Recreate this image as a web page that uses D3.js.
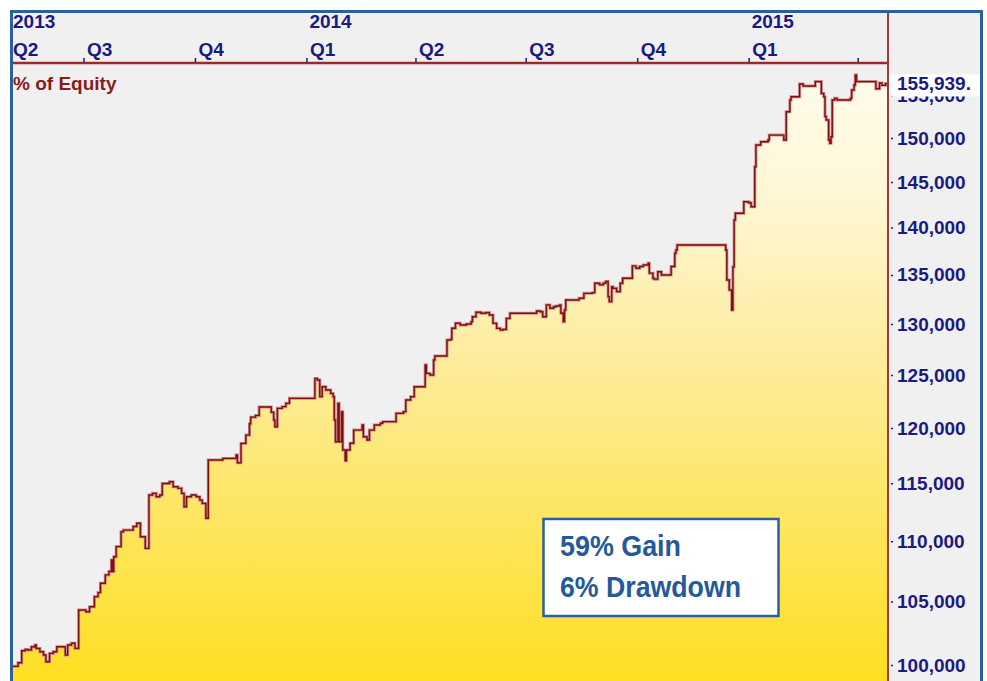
<!DOCTYPE html>
<html>
<head>
<meta charset="utf-8">
<script src="https://cdn.jsdelivr.net/npm/d3@7"></script>
<style>
  body { margin: 0; background: #fff; }
  svg { display: block; font-family: "Liberation Sans", Arial, sans-serif; }
</style>
</head>
<body>
<div id="chart"></div>
<script>
// equity curve
const dates = [
  "2013-05-03","2013-05-08","2013-05-11","2013-05-14","2013-05-16","2013-05-19","2013-05-22","2013-05-23",
  "2013-05-26","2013-05-29","2013-05-31","2013-06-03","2013-06-06","2013-06-09","2013-06-16","2013-06-18",
  "2013-06-21","2013-06-24","2013-06-27","2013-07-03","2013-07-06","2013-07-10","2013-07-13","2013-07-15",
  "2013-07-19","2013-07-22","2013-07-24","2013-07-25","2013-07-26","2013-07-28","2013-08-01","2013-08-03",
  "2013-08-11","2013-08-14","2013-08-17","2013-08-21","2013-08-24","2013-08-27","2013-08-30","2013-09-02",
  "2013-09-04","2013-09-10","2013-09-13","2013-09-17","2013-09-20","2013-09-22","2013-09-24","2013-09-28",
  "2013-10-02","2013-10-05","2013-10-07","2013-10-10","2013-10-12","2013-10-24","2013-11-04","2013-11-05",
  "2013-11-08","2013-11-12","2013-11-15","2013-11-16","2013-11-20","2013-11-23","2013-12-03","2013-12-05",
  "2013-12-06","2013-12-08","2013-12-12","2013-12-15","2013-12-18","2014-01-08","2014-01-10","2014-01-12",
  "2014-01-14","2014-01-17","2014-01-21","2014-01-23","2014-01-24","2014-01-25","2014-01-27","2014-01-28",
  "2014-01-30","2014-01-31","2014-02-02","2014-02-03","2014-02-06","2014-02-09","2014-02-16","2014-02-17",
  "2014-02-20","2014-02-22","2014-02-26","2014-03-03","2014-03-05","2014-03-16","2014-03-22","2014-03-24",
  "2014-03-28","2014-03-31","2014-04-09","2014-04-10","2014-04-13","2014-04-16","2014-04-17","2014-04-27",
  "2014-04-30","2014-05-01","2014-05-04","2014-05-08","2014-05-13","2014-05-17","2014-05-18","2014-05-21",
  "2014-05-25","2014-05-29","2014-06-01","2014-06-04","2014-06-07","2014-06-10","2014-06-12","2014-06-15",
  "2014-06-18","2014-07-10","2014-07-13","2014-07-15","2014-07-18","2014-07-21","2014-07-24","2014-07-26",
  "2014-07-29","2014-07-30","2014-08-01","2014-08-02","2014-08-03","2014-08-14","2014-08-18","2014-08-25",
  "2014-08-27","2014-08-31","2014-09-03","2014-09-05","2014-09-07","2014-09-08","2014-09-10","2014-09-11",
  "2014-09-14","2014-09-17","2014-09-19","2014-09-27","2014-09-30","2014-10-03","2014-10-06","2014-10-10",
  "2014-10-11","2014-10-14","2014-10-15","2014-10-18","2014-10-21","2014-10-29","2014-11-01","2014-11-02",
  "2014-11-03","2014-12-11","2014-12-13","2014-12-14","2014-12-16","2014-12-18","2014-12-19","2014-12-20",
  "2014-12-21","2014-12-28","2015-01-01","2015-01-03","2015-01-06","2015-01-07","2015-01-11","2015-01-17",
  "2015-01-18","2015-01-30","2015-02-01","2015-02-04","2015-02-05","2015-02-12","2015-02-15","2015-02-25",
  "2015-03-02","2015-03-04","2015-03-05","2015-03-06","2015-03-08","2015-03-09","2015-03-10","2015-03-11",
  "2015-03-13","2015-03-15","2015-03-26","2015-03-27","2015-03-29","2015-03-30","2015-03-31","2015-04-16",
  "2015-04-19","2015-04-21","2015-04-24","2015-04-26"
];
const equity = [
  99900,100180,101100,101210,101160,101420,101550,101290,
  101030,100770,100250,100900,101030,101420,100770,101550,
  101690,101290,104320,104190,104590,105400,105730,106490,
  107180,107460,108410,107460,108690,109540,110800,110940,
  111240,111530,110370,109390,113970,114120,113820,113970,
  114990,115140,114700,114560,114120,112950,113820,113970,
  113820,113530,113240,111950,117080,117230,117530,116840,
  118590,119350,120390,121010,121170,121950,121470,120740,
  120120,121830,121990,122300,122770,124670,124510,122930,
  123870,123560,123240,122930,120740,118740,122300,118740,
  121510,117990,117020,117990,118600,119810,120280,119200,
  118900,119810,120280,120440,120590,121360,121510,122610,
  122930,123870,125960,125150,125000,126440,126830,128400,
  128470,129570,130070,129900,130000,130230,130730,131180,
  131080,131140,130900,130060,129560,129390,129460,130560,
  131070,131300,131230,130730,131920,131580,131740,131810,
  131920,131070,130230,131400,132420,132590,133100,133170,
  134140,133970,134140,134310,132760,132250,133780,133610,
  133270,134140,134660,135940,135700,135870,136040,136210,
  135180,134660,134560,135330,134990,135870,137260,137610,
  138140,138140,137610,134470,133440,131400,135840,140820,
  141550,142820,142710,142270,146710,149180,149560,149760,
  150330,149760,153050,154440,154830,156360,156120,156640,
  155230,154830,152480,152080,149760,149380,150140,154440,
  154640,154440,154640,155630,156230,157440,156640,155790,
  156480,156190,156400,155939
];

const xDomain = ["2013-05-03", "2015-04-26"];
const yDomain = [98780, 158900];
const yTicks = [100000, 105000, 110000, 115000, 120000, 125000, 130000,
                135000, 140000, 145000, 150000, 155000];
const quarterTicks = ["2013-07-01","2013-10-01","2014-01-01","2014-04-01",
                      "2014-07-01","2014-10-01","2015-01-01","2015-04-01"];
const quarterLabels = ["Q3","Q4","Q1","Q2","Q3","Q4","Q1",""];
const yearTicks = ["2014-01-01","2015-01-01"];
const yearLabels = ["2014","2015"];
const firstQuarter = "Q2";
const firstYear = "2013";
const lastValue = 155939;
const axisTitle = "% of Equity";
const statLines = ["59% Gain", "6% Drawdown"];

class EquityChart {

  constructor(_config, _data) {
    this.config = {
      parentElement: _config.parentElement,
      containerWidth: _config.containerWidth || 987,
      containerHeight: _config.containerHeight || 681,
      plot: {left: 12, right: 888, top: 63, bottom: 681},
      navy: '#1a1a80',
      red: '#9c2a2a',
      blue: '#2b5f9e'
    }
    this.data = _data;
    this.initVis();
  }

  initVis() {
    let vis = this;
    const c = vis.config, p = c.plot;
    const parse = d3.utcParse('%Y-%m-%d');

    vis.svg = d3.select(c.parentElement).append('svg')
      .attr('width', c.containerWidth)
      .attr('height', c.containerHeight);

    vis.x = d3.scaleUtc()
      .domain(xDomain.map(parse))
      .range([p.left, p.right]);

    // log scale, the tick spacing in the picture shrinks going up
    vis.y = d3.scaleLog()
      .domain(yDomain)
      .range([p.bottom, p.top]);

    const defs = vis.svg.append('defs');
    const grad = defs.append('linearGradient')
      .attr('id', 'fillGrad')
      .attr('gradientUnits', 'userSpaceOnUse')
      .attr('x1', 0).attr('x2', 0)
      .attr('y1', 80).attr('y2', p.bottom);
    grad.append('stop').attr('offset', '0%').attr('stop-color', '#fffbea');
    grad.append('stop').attr('offset', '20%').attr('stop-color', '#fff6d4');
    grad.append('stop').attr('offset', '50%').attr('stop-color', '#fdeb95');
    grad.append('stop').attr('offset', '100%').attr('stop-color', '#fedf22');

    defs.append('clipPath').attr('id', 'plotClip')
      .append('rect')
      .attr('x', p.left).attr('y', p.top)
      .attr('width', p.right - p.left)
      .attr('height', p.bottom - p.top);

    // gray panel inside the blue frame
    vis.svg.append('rect')
      .attr('x', 12).attr('y', 11)
      .attr('width', 970).attr('height', c.containerHeight)
      .attr('fill', '#f0f0f0');

    vis.renderVis();
  }

  renderVis() {
    let vis = this;
    const c = vis.config, p = c.plot;
    const parse = d3.utcParse('%Y-%m-%d');

    const points = dates.map((d, i) => ({date: parse(d), value: equity[i]}));

    const area = d3.area()
      .curve(d3.curveStepAfter)
      .x(d => vis.x(d.date))
      .y0(p.bottom)
      .y1(d => vis.y(d.value));

    const line = d3.line()
      .curve(d3.curveStepAfter)
      .x(d => vis.x(d.date))
      .y(d => vis.y(d.value));

    const g = vis.svg.append('g').attr('clip-path', 'url(#plotClip)');

    g.append('path')
      .datum(points)
      .attr('d', area)
      .attr('fill', 'url(#fillGrad)');

    g.append('path')
      .datum(points)
      .attr('d', line)
      .attr('fill', 'none')
      .attr('stroke', '#c98a8a')
      .attr('stroke-width', 3);

    g.append('path')
      .datum(points)
      .attr('d', line)
      .attr('fill', 'none')
      .attr('stroke', '#850f0f')
      .attr('stroke-width', 1.4);

    // top quarter axis
    const qMap = new Map(quarterTicks.map((d, i) => [d, quarterLabels[i]]));
    const xAxis = d3.axisTop(vis.x)
      .tickValues(quarterTicks.map(parse))
      .tickSize(5)
      .tickFormat(d => qMap.get(d3.utcFormat('%Y-%m-%d')(d)));

    const xg = vis.svg.append('g')
      .attr('transform', `translate(0,${p.top})`)
      .call(xAxis);
    xg.select('.domain').remove();
    xg.selectAll('.tick line').attr('stroke', c.navy).attr('stroke-width', 1.5);
    xg.selectAll('.tick text')
      .attr('text-anchor', 'start')
      .attr('x', 3).attr('y', -7).attr('dy', 0)
      .attr('fill', c.navy)
      .style('font-size', '19px').style('font-weight', 'bold');

    vis.svg.selectAll('.year-label')
      .data(yearTicks)
      .join('text')
      .attr('class', 'year-label')
      .attr('x', d => vis.x(parse(d)) + 3)
      .attr('y', 28)
      .attr('fill', c.navy)
      .style('font-size', '19px').style('font-weight', 'bold')
      .text((d, i) => yearLabels[i]);

    // partial first quarter at the left edge
    vis.svg.append('text')
      .attr('x', p.left + 1).attr('y', 28)
      .attr('fill', c.navy)
      .style('font-size', '19px').style('font-weight', 'bold')
      .text(firstYear);
    vis.svg.append('text')
      .attr('x', p.left + 1).attr('y', 56)
      .attr('fill', c.navy)
      .style('font-size', '19px').style('font-weight', 'bold')
      .text(firstQuarter);

    vis.svg.append('line')
      .attr('x1', p.left).attr('x2', p.right)
      .attr('y1', p.top).attr('y2', p.top)
      .attr('stroke', c.red).attr('stroke-width', 2.5);

    // right value axis
    const yAxis = d3.axisRight(vis.y)
      .tickValues(yTicks)
      .tickSize(0)
      .tickPadding(9)
      .tickFormat(d3.format(','));

    const yg = vis.svg.append('g')
      .attr('transform', `translate(${p.right},0)`)
      .call(yAxis);
    yg.select('.domain').remove();
    yg.selectAll('.tick line')
      .attr('x1', 3).attr('x2', 5)
      .attr('stroke', c.navy).attr('stroke-width', 1.5);
    yg.selectAll('.tick text')
      .attr('fill', c.navy)
      .style('font-size', '19px').style('font-weight', 'bold');

    vis.svg.append('line')
      .attr('x1', p.right).attr('x2', p.right)
      .attr('y1', 11).attr('y2', p.bottom)
      .attr('stroke', '#a33a3a').attr('stroke-width', 2);

    // last value tag, it sits over the 155,000 tick label like in the source
    const ly = vis.y(lastValue);
    vis.svg.append('rect')
      .attr('x', p.right + 1).attr('y', ly - 13)
      .attr('width', 100).attr('height', 22)
      .attr('fill', '#fff');
    vis.svg.append('text')
      .attr('x', p.right + 9).attr('y', ly + 3)
      .attr('fill', c.navy)
      .style('font-size', '19px').style('font-weight', 'bold')
      .text(d3.format(',')(lastValue) + '.');

    vis.svg.append('text')
      .attr('x', p.left + 1).attr('y', 90)
      .attr('fill', '#8b1a1a')
      .style('font-size', '19px').style('font-weight', 'bold')
      .text(axisTitle);

    // annotation box
    vis.svg.append('rect')
      .attr('x', 543.5).attr('y', 519)
      .attr('width', 235).attr('height', 97)
      .attr('fill', '#fff')
      .attr('stroke', c.blue).attr('stroke-width', 2.5);

    const widths = [121, 181];
    vis.svg.selectAll('.stat')
      .data(statLines)
      .join('text')
      .attr('class', 'stat')
      .attr('x', 560)
      .attr('y', (d, i) => 556 + i * 41)
      .attr('fill', '#24599a')
      .attr('textLength', (d, i) => widths[i])
      .attr('lengthAdjust', 'spacingAndGlyphs')
      .style('font-family', '"Liberation Sans Narrow", "Arial Narrow", "Liberation Sans", Arial, sans-serif')
      .style('font-size', '29px').style('font-weight', 'bold')
      .text(d => d);

    // blue frame
    vis.svg.append('rect')
      .attr('x', 11.5).attr('y', 11.5)
      .attr('width', 970).attr('height', c.containerHeight)
      .attr('fill', 'none')
      .attr('stroke', c.blue).attr('stroke-width', 3);
  }
}

const chart = new EquityChart({parentElement: '#chart'}, {dates, equity});
</script>
</body>
</html>
